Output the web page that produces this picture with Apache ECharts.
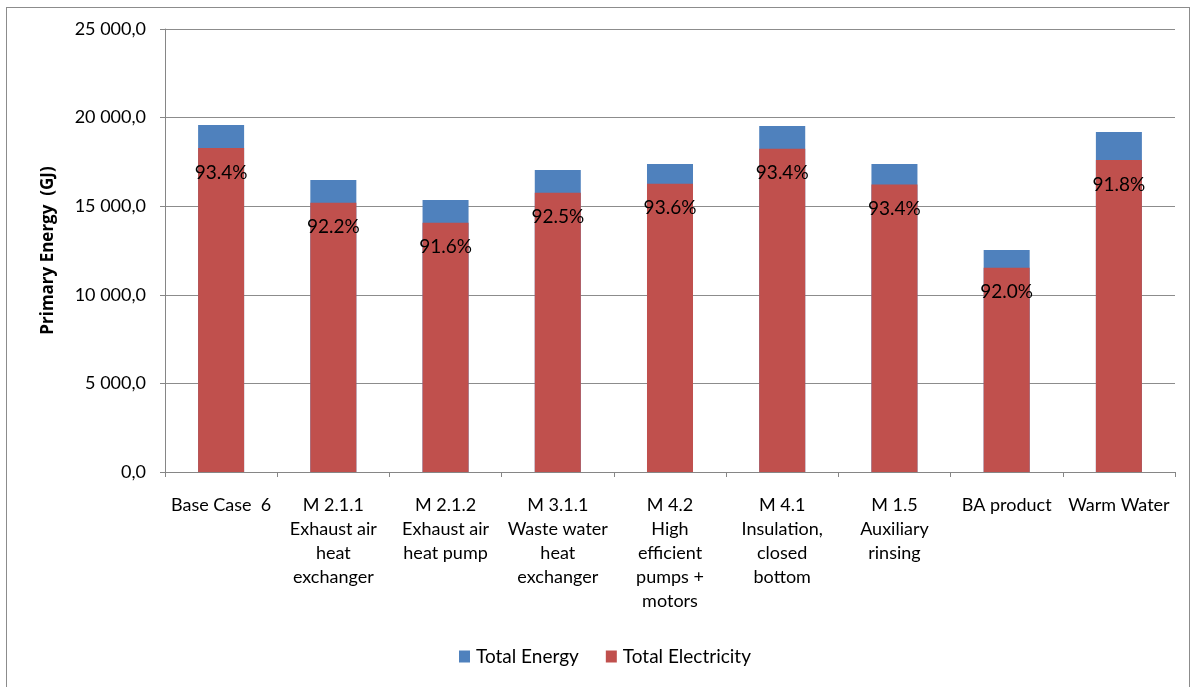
<!DOCTYPE html>
<html><head><meta charset="utf-8">
<script src="https://cdn.jsdelivr.net/npm/echarts@6/dist/echarts.min.js"></script>
<style>
html,body{margin:0;padding:0;background:#fff;}
#frame{position:absolute;left:6px;top:7px;width:1184px;height:700px;border:1px solid #8c8c8c;box-sizing:border-box;}
#c{position:absolute;left:0;top:0;width:1192px;height:687px;}
</style></head>
<body>
<div id="frame"></div>
<div id="c"></div>
<script>
const categories = ["Base Case  6", "M 2.1.1\nExhaust air\nheat\nexchanger", "M 2.1.2\nExhaust air\nheat pump", "M 3.1.1\nWaste water\nheat\nexchanger", "M 4.2\nHigh\nefficient\npumps +\nmotors", "M 4.1\nInsulation,\nclosed\nbottom", "M 1.5\nAuxiliary\nrinsing", "BA product", "Warm Water"];
const totalEnergy = [19580, 16480, 15350, 17040, 17380, 19530, 17380, 12530, 19190];
const totalElectricity = [18285, 15195, 14060, 15760, 16270, 18240, 16230, 11530, 17610];
const yTicks = [0, 5000, 10000, 15000, 20000, 25000];

const fontFam = 'Lato, "Open Sans", sans-serif';
function fmt(v){
  const s = v.toFixed(1).split('.');
  const intPart = s[0].replace(/\B(?=(\d{3})+(?!\d))/g, ' ');
  return intPart + ',' + s[1];
}
const chart = echarts.init(document.getElementById('c'));
chart.setOption({
  animation:false,
  textStyle:{fontFamily:fontFam},
  grid:{left:165, top:29, right:17, bottom:215},
  legend:{
    bottom:16, left:454, itemWidth:11, itemHeight:12, itemGap:27,
    icon:'rect',
    textStyle:{fontSize:19, color:'#000', fontFamily:fontFam, padding:[0,0,0,1]},
    data:['Total Energy','Total Electricity']
  },
  xAxis:{
    type:'category', data:categories,
    axisLine:{lineStyle:{color:'#868686'}},
    axisTick:{show:true, length:5, lineStyle:{color:'#868686'}},
    axisLabel:{interval:0, fontSize:18, color:'#000', lineHeight:24, margin:21, fontFamily:fontFam}
  },
  yAxis:{
    type:'value', min:yTicks[0], max:yTicks[yTicks.length-1], interval:5000,
    name:'Primary Energy  (GJ)', nameLocation:'middle', nameGap:108,
    nameTextStyle:{fontSize:17, fontWeight:'bold', color:'#000', fontFamily:'"Open Sans", "DejaVu Sans", sans-serif'},
    axisLine:{show:true, lineStyle:{color:'#868686'}},
    axisTick:{show:true, length:5, lineStyle:{color:'#868686'}},
    splitLine:{lineStyle:{color:'#8c8c8c', width:1}},
    axisLabel:{fontSize:18, color:'#000', margin:19, formatter:fmt, fontFamily:fontFam}
  },
  series:[
    {name:'Total Energy', type:'bar', data:totalEnergy, barWidth:'41%',
     itemStyle:{color:'#4f81bd'}},
    {name:'Total Electricity', type:'bar', data:totalElectricity, barWidth:'41%', barGap:'-100%',
     itemStyle:{color:'#c0504d'},
     label:{show:true, position:'insideTop', distance:15, fontSize:19, color:'#000', fontFamily:fontFam,
       formatter:p => (totalElectricity[p.dataIndex]/totalEnergy[p.dataIndex]*100).toFixed(1) + '%'}}
  ]
});
</script>
</body></html>
